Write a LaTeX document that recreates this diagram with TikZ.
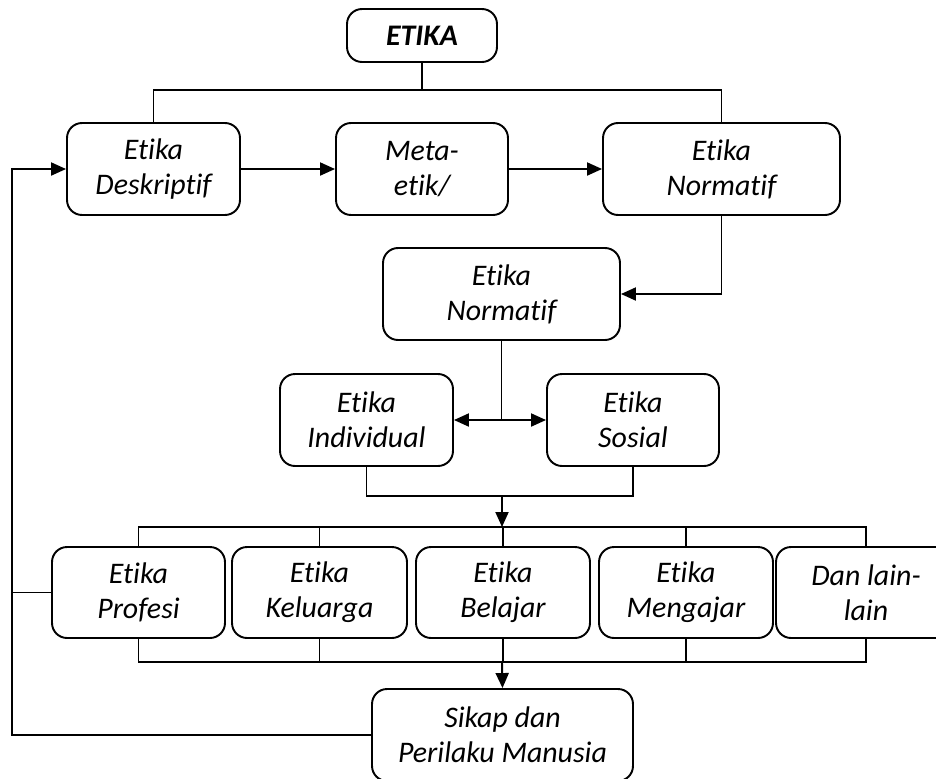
\documentclass[tikz,border=0pt]{standalone}
\usepackage{fontspec}
\setmainfont{Carlito}[Ligatures=NoCommon]
\usepackage{tikz}
\usetikzlibrary{arrows.meta,positioning}

\begin{document}
\begin{tikzpicture}[
  x=0.02cm, y=-0.02cm,
  font=\fontsize{17}{20}\selectfont\itshape,
  box/.style={draw, line width=1.1pt, rounded corners=0.3cm, align=center,
    inner sep=0pt, minimum height=1.84cm},
  link/.style={line width=1.1pt},
  arr/.style={line width=1.1pt, -{Triangle[length=0.3cm,width=0.26cm]}}
]
\useasboundingbox (0,0) rectangle (936,778);
% boxes
\node[box, minimum width=3cm, minimum height=1.06cm, font=\fontsize{17}{20}\selectfont\bfseries\itshape] (etika) at (422,35.5) {ETIKA};
\node[box, minimum width=3.46cm] (deskriptif) at (153.5,169) {Etika\\Deskriptif};
\node[box, minimum width=3.44cm] (meta) at (422,169) {Meta-\\etik/};
\node[box, minimum width=4.74cm] (normatif) at (721.5,169) {Etika\\Normatif};
\node[box, minimum width=4.74cm] (normatifb) at (501.5,294) {Etika\\Normatif};
\node[box, minimum width=3.46cm] (individual) at (366.5,420) {Etika\\Individual};
\node[box, minimum width=3.44cm] (sosial) at (633,420) {Etika\\Sosial};
\node[box, minimum width=3.46cm, minimum height=1.82cm] (profesi) at (138.5,592.5) {Etika\\Profesi};
\node[box, minimum width=3.5cm, minimum height=1.82cm] (keluarga) at (319.5,592.5) {Etika\\Keluarga};
\node[box, minimum width=3.48cm, minimum height=1.82cm] (belajar) at (503,592.5) {Etika\\Belajar};
\node[box, minimum width=3.48cm, minimum height=1.82cm] (mengajar) at (686,592.5) {Etika\\Mengajar};
\node[box, minimum width=3.6cm, minimum height=1.82cm] (lain) at (866,592.5) {Dan lain-\\lain};
\node[box, minimum width=5.22cm] (sikap) at (502.5,735) {Sikap dan\\Perilaku Manusia};
% junction points
\coordinate (topbar) at (422,90);
\coordinate (split) at (501.5,420);
\coordinate (midbar) at (502,496);
\coordinate (rowtop) at (502,527);
\coordinate (rowbot) at (502,662);
\coordinate (fb) at (12,169);
% top level
\draw[link] (etika.south) -- (topbar);
\draw[link] (deskriptif.north) |- (topbar) -| (normatif.north);
\draw[arr] (deskriptif.east) -- (meta.west);
\draw[arr] (meta.east) -- (normatif.west);
\draw[arr] (normatif.south) |- (normatifb.east);
% normatif split
\draw[link] (normatifb.south) -- (split);
\draw[arr] (split) -- (individual.east);
\draw[arr] (split) -- (sosial.west);
\draw[link] (individual.south) |- (midbar) -| (sosial.south);
\draw[arr] (midbar) -- (rowtop);
% row of ethics
\draw[link] (profesi.north) |- (rowtop) -| (lain.north);
\draw[link] (profesi.south) |- (rowbot) -| (lain.south);
\foreach \n in {keluarga,belajar,mengajar} {
  \draw[link] (\n.north) -- (\n.north |- rowtop);
  \draw[link] (\n.south) -- (\n.south |- rowbot);
}
\draw[arr] (rowbot) -- (sikap.north);
% feedback
\draw[arr] (sikap.west) -| (fb) -- (deskriptif.west);
\draw[link] (profesi.west) -- (fb |- profesi.west);
\end{tikzpicture}
\end{document}
